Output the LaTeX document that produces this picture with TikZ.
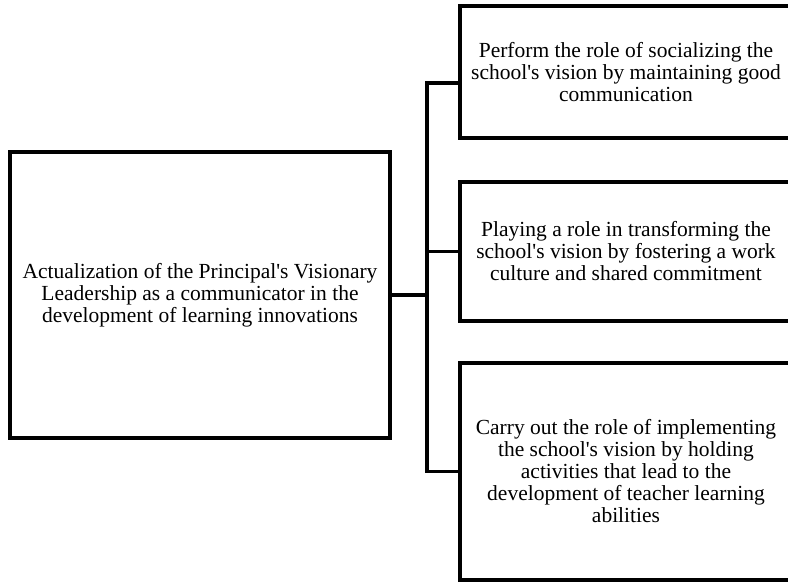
\documentclass[tikz,border=0pt]{standalone}
\usepackage{fontspec}
\setmainfont{Liberation Serif}[Ligatures=TeXOff]
\usepackage{tikz}
\usetikzlibrary{positioning}

\begin{document}
\begin{tikzpicture}[x=1pt, y=1pt,
  box/.style  = {draw, line width = 3.5pt, align=center, inner sep=0pt,
                 font=\fontsize{21.5}{22}\selectfont},
  link/.style = {line width = 3.5pt}
  ]
  \useasboundingbox (0,0) rectangle (788,-582);

  % Main box
  \node [box, minimum width=380, minimum height=286] (lead) at (200,-295)
    {Actualization of the Principal's Visionary\\Leadership as a communicator in the\\development of learning innovations};

  % Roles
  \node [box, minimum width=332, minimum height=132] (perform) at (626,-72)
    {Perform the role of socializing the\\school's vision by maintaining good\\communication};
  \node [box, minimum width=332, minimum height=139] (play) at (626,-251.5)
    {Playing a role in transforming the\\school's vision by fostering a work\\culture and shared commitment};
  \node [box, minimum width=332, minimum height=217] (carry) at (626,-471.5)
    {Carry out the role of implementing\\the school's vision by holding\\activities that lead to the\\development of teacher learning\\abilities};

  % Link the boxes
  \coordinate (bus) at (427,-295);
  \draw [link] (lead.east) -- (bus);
  \draw [link] ([yshift=-11]perform.west) -| (bus) |- (carry.west);
  \draw [link] (bus) |- (play.west);
\end{tikzpicture}
\end{document}
